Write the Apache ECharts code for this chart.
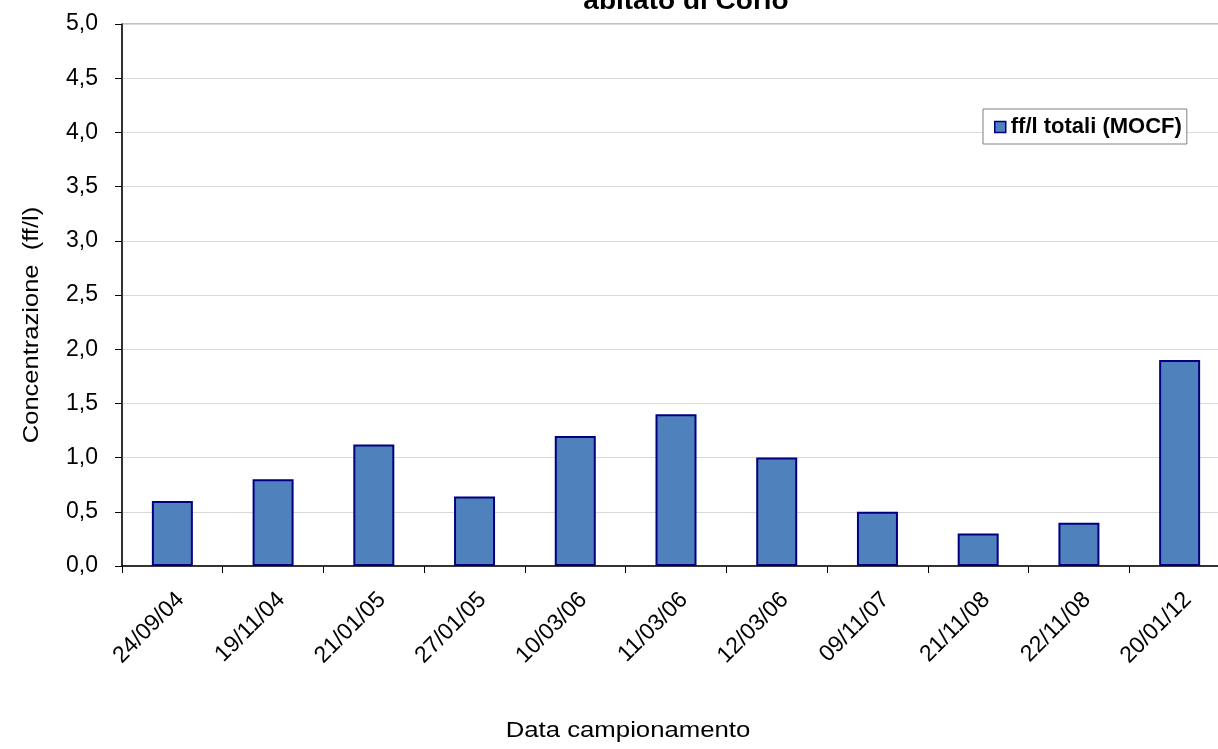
<!DOCTYPE html>
<html>
<head>
<meta charset="utf-8">
<script src="https://cdn.jsdelivr.net/npm/echarts@6/dist/echarts.min.js"></script>
<style>
  html, body { margin: 0; padding: 0; background: #ffffff; overflow: hidden; }
  /* plot area runs a little past the right edge of the window */
  #chart { width: 1230px; height: 749px; }
</style>
</head>
<body>
<div id="chart"></div>
<script>
// Sampling dates and total fibre concentration (ff/l, MOCF)
const dates = ['24/09/04', '19/11/04', '21/01/05', '27/01/05', '10/03/06', '11/03/06',
               '12/03/06', '09/11/07', '21/11/08', '22/11/08', '20/01/12'];
const fibreTotals = [0.6, 0.8, 1.12, 0.64, 1.2, 1.4, 1.0, 0.5, 0.3, 0.4, 1.9];
const seriesName = 'ff/l totali (MOCF)';
const chartTitle = 'abitato di Corio';
const yTitle = 'Concentrazione  (ff/l)';
const xTitle = 'Data campionamento';

const FONT = '"Liberation Sans", Arial, sans-serif';

const chart = echarts.init(document.getElementById('chart'), null, { renderer: 'canvas' });

chart.setOption({
  backgroundColor: '#ffffff',
  animation: false,
  legend: {
    data: [seriesName],
    left: 983,
    top: 109,
    padding: [7, 5, 6, 11],
    itemWidth: 11,
    itemHeight: 11,
    itemGap: 2,
    borderColor: '#808080',
    borderWidth: 1,
    borderRadius: 0,
    backgroundColor: '#ffffff',
    icon: 'rect',
    itemStyle: { borderColor: '#000080', borderWidth: 1.5 },
    textStyle: { fontFamily: FONT, fontSize: 22, fontWeight: 'bold', color: '#000000' }
  },
  grid: {
    left: 122,
    right: 0,
    top: 24,
    bottom: 183,
    show: true,
    borderColor: '#808080',
    borderWidth: 1,
    backgroundColor: 'transparent'
  },
  xAxis: {
    type: 'category',
    data: dates,
    axisLine: { lineStyle: { color: '#000000', width: 1.5 } },
    axisTick: { show: true, length: 7, alignWithLabel: false, lineStyle: { color: '#000000' } },
    axisLabel: {
      rotate: 45,
      margin: 22,
      interval: 0,
      verticalAlign: 'top',
      fontFamily: FONT,
      fontSize: 23,
      color: '#000000'
    },
    splitLine: { show: false }
  },
  yAxis: {
    type: 'value',
    min: 0,
    max: 5,
    interval: 0.5,
    axisLine: { show: true, lineStyle: { color: '#000000', width: 1.5 } },
    axisTick: { show: true, length: 7, lineStyle: { color: '#000000' } },
    axisLabel: {
      margin: 24,
      fontFamily: FONT,
      fontSize: 23,
      color: '#000000',
      formatter: v => v.toFixed(1).replace('.', ',')
    },
    splitLine: { show: true, lineStyle: { color: '#d9d9d9', width: 1 } }
  },
  series: [{
    name: seriesName,
    type: 'bar',
    data: fibreTotals,
    barWidth: 41,
    itemStyle: {
      color: '#4f81bd',
      borderColor: '#000080',
      borderWidth: 2
    }
  }],
  graphic: [
    {
      type: 'text',
      x: 686,
      y: 15,
      scaleX: 1.12,
      style: {
        text: chartTitle,
        align: 'center',
        verticalAlign: 'bottom',
        fontFamily: FONT,
        fontSize: 25,
        fontWeight: 'bold',
        fill: '#000000'
      }
    },
    {
      type: 'text',
      x: 32,
      y: 325,
      rotation: Math.PI / 2,
      scaleX: 1.16,
      style: {
        text: yTitle,
        align: 'center',
        verticalAlign: 'middle',
        fontFamily: FONT,
        fontSize: 22,
        fill: '#000000'
      }
    },
    {
      type: 'text',
      x: 628,
      y: 731,
      scaleX: 1.17,
      style: {
        text: xTitle,
        align: 'center',
        verticalAlign: 'middle',
        fontFamily: FONT,
        fontSize: 22,
        fill: '#000000'
      }
    }
  ]
});
</script>
</body>
</html>
